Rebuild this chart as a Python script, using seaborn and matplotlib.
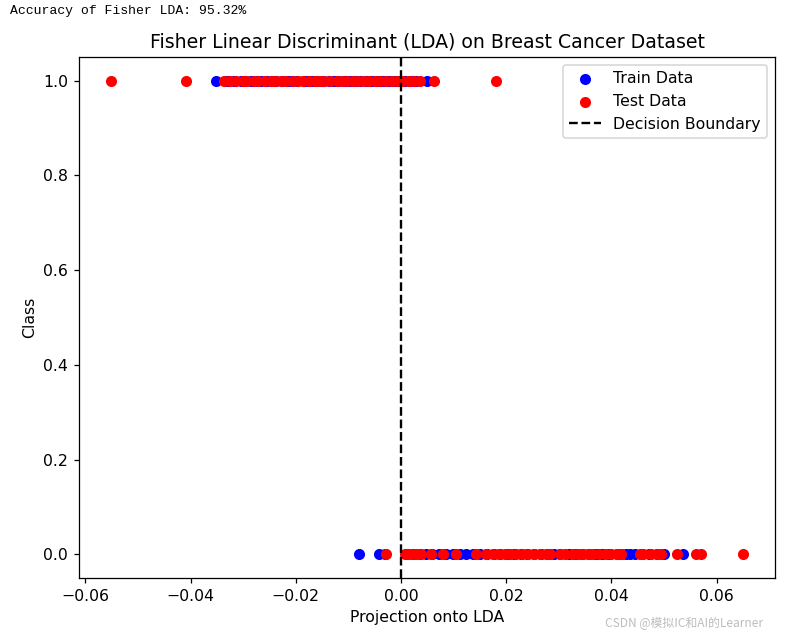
import numpy as np
import matplotlib
matplotlib.use("Agg")
import matplotlib.pyplot as plt
import seaborn as sns
import pandas as pd

# Projektionen, Klasse 1 = oben, Klasse 0 = unten
train_proj_1 = [-0.0352, -0.0331, -0.0318, -0.0305, -0.0297, -0.0286, -0.0274, -0.0266,
                -0.0255, -0.0243, -0.0237, -0.0226, -0.0214, -0.0208, -0.0197, -0.0185,
                -0.0178, -0.0169, -0.0158, -0.0149, -0.0137, -0.0128, -0.0119, -0.0107,
                -0.0096, -0.0088, -0.0077, -0.0065, -0.0056, -0.0044, -0.0035, -0.0023,
                -0.0012, -0.0003, 0.0008, 0.0019, 0.0029, 0.0050]
train_proj_0 = [-0.0080, -0.0042, -0.0031, 0.0011, 0.0023, 0.0036, 0.0048, 0.0059, 0.0073,
                0.0085, 0.0098, 0.0112, 0.0124, 0.0137, 0.0150, 0.0163, 0.0176, 0.0189,
                0.0201, 0.0214, 0.0228, 0.0240, 0.0253, 0.0266, 0.0279, 0.0291, 0.0303,
                0.0319, 0.0331, 0.0344, 0.0357, 0.0370, 0.0383, 0.0396, 0.0410, 0.0418,
                0.0427, 0.0436, 0.0445, 0.0458, 0.0472, 0.0486, 0.0500, 0.0537]
test_proj_1 = [-0.0552, -0.0408, -0.0337, -0.0326, -0.0314, -0.0301, -0.0292, -0.0280,
               -0.0271, -0.0259, -0.0248, -0.0240, -0.0229, -0.0218, -0.0205, -0.0196,
               -0.0187, -0.0175, -0.0163, -0.0155, -0.0146, -0.0134, -0.0122, -0.0113,
               -0.0102, -0.0092, -0.0081, -0.0070, -0.0061, -0.0049, -0.0040, -0.0028,
               -0.0017, -0.0008, 0.0004, 0.0015, 0.0025, 0.0036, 0.0062, 0.0180]
test_proj_0 = [-0.0029, 0.0007, 0.0014, 0.0021, 0.0029, 0.0038, 0.0057, 0.0080, 0.0105,
               0.0143, 0.0162, 0.0175, 0.0186, 0.0197, 0.0208, 0.0219, 0.0231, 0.0242,
               0.0253, 0.0264, 0.0275, 0.0283, 0.0303, 0.0312, 0.0328, 0.0337, 0.0347,
               0.0356, 0.0366, 0.0376, 0.0390, 0.0400, 0.0410, 0.0418, 0.0454, 0.0460,
               0.0476, 0.0486, 0.0495, 0.0524, 0.0560, 0.0570, 0.0651]
decision_boundary = 0.0
accuracy = 95.32

train_df = pd.DataFrame({
    "proj": train_proj_1 + train_proj_0,
    "cls": [1] * len(train_proj_1) + [0] * len(train_proj_0),
})
test_df = pd.DataFrame({
    "proj": test_proj_1 + test_proj_0,
    "cls": [1] * len(test_proj_1) + [0] * len(test_proj_0),
})

fig = plt.figure(figsize=(797 / 113, 637 / 113), dpi=113)
ax = fig.add_axes([79 / 797, 1 - 578 / 637, 696 / 797, 521 / 637])

sns.scatterplot(data=train_df, x="proj", y="cls", color="blue", s=50, linewidth=0,
                label="Train Data", ax=ax)
sns.scatterplot(data=test_df, x="proj", y="cls", color="red", s=50, linewidth=0,
                label="Test Data", ax=ax)
ax.axvline(decision_boundary, color="black", linestyle="--", label="Decision Boundary")

ax.set_yticks([0.0, 0.2, 0.4, 0.6, 0.8, 1.0])
ax.set_title("Fisher Linear Discriminant (LDA) on Breast Cancer Dataset")
ax.set_xlabel("Projection onto LDA")
ax.set_ylabel("Class")
ax.legend(loc="upper right")

# Konsolenausgabe und Wasserzeichen aus dem Screenshot
fig.text(10 / 797, 1 - 11 / 637, f"Accuracy of Fisher LDA: {accuracy:.2f}%",
         family="Liberation Mono", fontsize=8.4, va="center", ha="left")
fig.text(763 / 797, 1 - 623 / 637, "CSDN @模拟IC和AI的Learner",
         family=["Noto Sans CJK SC", "DejaVu Sans"], fontsize=7.6, color="#bdbdbd",
         va="center", ha="right")

fig.savefig("out.png", dpi=113)
